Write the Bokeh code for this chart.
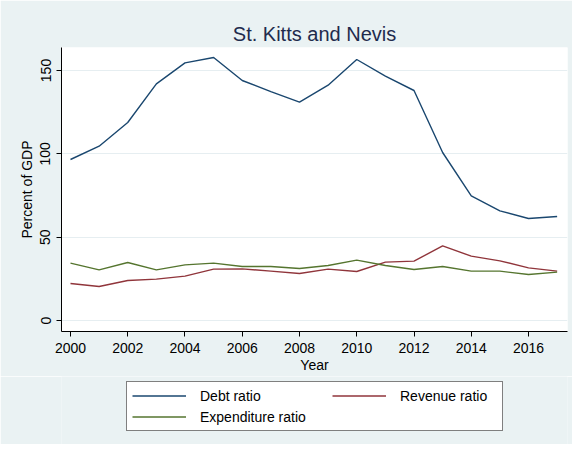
from bokeh.plotting import figure
from bokeh.layouts import column
from bokeh.models import Range1d, Legend, LegendItem, FixedTicker
from bokeh.embed import file_html
from bokeh.resources import INLINE

years = list(range(2000, 2018))
debt = [96.6, 104.6, 118.8, 142.0, 154.6, 157.8, 144.0, 137.3, 131.0, 141.2,
        156.6, 146.6, 138.0, 100.8, 74.8, 65.8, 61.2, 62.4]
revenue = [22.2, 20.4, 24.0, 24.8, 26.6, 30.8, 31.0, 29.6, 28.2, 30.8,
           29.4, 35.0, 35.6, 44.8, 38.6, 35.8, 31.6, 29.6]
expenditure = [34.4, 30.4, 34.8, 30.4, 33.4, 34.4, 32.4, 32.4, 31.2, 33.0,
               36.2, 33.0, 30.6, 32.4, 29.6, 29.6, 27.6, 29.0]
x_ticks = [2000, 2002, 2004, 2006, 2008, 2010, 2012, 2014, 2016]
y_ticks = [0, 50, 100, 150]
series_names = ["Debt ratio", "Revenue ratio", "Expenditure ratio"]

FONT = "Liberation Sans"
BG = "#EAF2F3"
colors = ["#1A476F", "#90353B", "#55752F"]
series = [debt, revenue, expenditure]

p = figure(width=572, height=376, output_backend="svg", toolbar_location=None,
           x_range=Range1d(1999.686, 2017.362), y_range=Range1d(-6.6, 163.8),
           min_border_left=61, min_border_right=5, min_border_top=47,
           min_border_bottom=45)

p.title.text = "St. Kitts and Nevis"
p.title.align = "center"
p.title.text_font = FONT
p.title.text_font_size = "20px"
p.title.text_font_style = "normal"
p.title.text_color = "#1F2B4D"
p.title.standoff = 6

p.border_fill_color = BG
p.background_fill_color = "white"
p.outline_line_color = None

for ax in (p.xaxis[0], p.yaxis[0]):
    ax.axis_line_color = "black"
    ax.axis_line_width = 1
    ax.major_tick_line_color = "black"
    ax.major_tick_in = 0
    ax.major_tick_out = 5
    ax.minor_tick_line_color = None
    ax.major_label_text_font = FONT
    ax.major_label_text_font_size = "14px"
    ax.major_label_text_color = "black"
    ax.axis_label_text_font = FONT
    ax.axis_label_text_font_size = "14px"
    ax.axis_label_text_font_style = "normal"
    ax.axis_label_text_color = "black"

p.xaxis.ticker = FixedTicker(ticks=x_ticks)
p.yaxis.ticker = FixedTicker(ticks=y_ticks)
p.yaxis.major_label_orientation = "vertical"
p.yaxis.axis_label = "Percent of GDP"
p.xaxis.axis_label = "Year"
p.yaxis.major_label_standoff = 6
p.yaxis.axis_label_standoff = 3
p.xaxis.major_label_standoff = 6
p.xaxis.axis_label_standoff = 1

p.xgrid.visible = False
p.ygrid.ticker = FixedTicker(ticks=y_ticks)
p.ygrid.grid_line_color = "#E6EEF1"
p.ygrid.grid_line_width = 1

for vals, c in zip(series, colors):
    p.line(years, vals, line_color=c, line_width=1.4)

# legend panel below the plot (its frame is aligned with the plot's frame: x 61..567)
q = figure(width=572, height=68, output_backend="svg", toolbar_location=None,
           x_range=Range1d(0, 1), y_range=Range1d(0, 1),
           x_axis_type=None, y_axis_type=None, min_border=0)
q.grid.visible = False
q.outline_line_color = None
q.background_fill_color = BG
q.border_fill_color = BG
# same series, drawn outside q's visible ranges: only their legend keys show
keys = [q.line(years, vals, line_color=c, line_width=1.4) for vals, c in zip(series, colors)]

common = dict(label_text_font=FONT, label_text_font_size="14px", label_text_color="black",
              glyph_width=54, glyph_height=17, label_height=17,
              label_standoff=14, padding=5, spacing=4, margin=0)

legend_a = Legend(items=[LegendItem(label=series_names[0], renderers=[keys[0]]),
                         LegendItem(label=series_names[2], renderers=[keys[2]])],
                  location=(65, 13),
                  border_line_color="black", border_line_width=1,
                  background_fill_color="white", background_fill_alpha=1,
                  label_width=297, **common)
legend_b = Legend(items=[LegendItem(label=series_names[1], renderers=[keys[1]])],
                  location=(271, 40),
                  border_line_color=None, background_fill_alpha=0,
                  **common)
q.add_layout(legend_a, "center")
q.add_layout(legend_b, "center")

layout = column(p, q, spacing=0)
open("out.html", "w").write(file_html(layout, INLINE))
